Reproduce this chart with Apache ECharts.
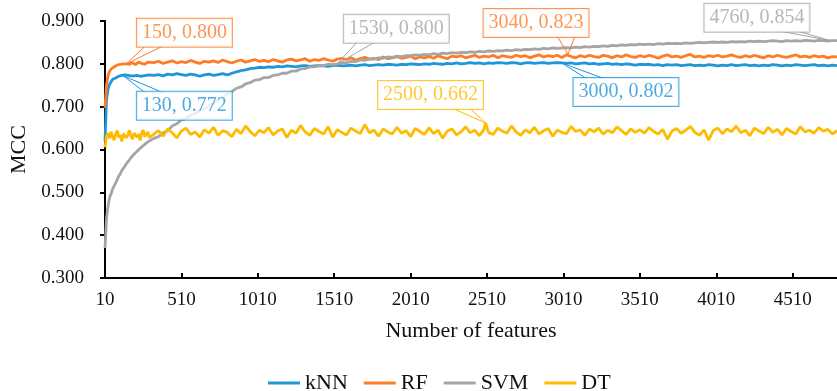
<!doctype html>
<html>
<head>
<meta charset="utf-8">
<title>MCC</title>
<script type="text/javascript" src="https://cdn.jsdelivr.net/npm/echarts@6.0.0/dist/echarts.min.js"></script>
</head>
<body style="margin:0;padding:0">
<div id="tb" style="width:837px;height:391px;"></div>
<script>
// number of features: every 10 up to 300, then every 30 up to 4800
var features = [];
for (var f = 10; f <= 300; f += 10) features.push(f);
for (var g = 330; g <= 4800; g += 30) features.push(g);

var xTicks = [10, 510, 1010, 1510, 2010, 2510, 3010, 3510, 4010, 4510];

var knn = [
  0.620, 0.718, 0.742, 0.752, 0.758, 0.764, 0.768, 0.767, 0.770, 0.771,
  0.769, 0.773, 0.772, 0.774, 0.771, 0.773, 0.770, 0.772, 0.775, 0.772,
  0.770, 0.773, 0.775, 0.771, 0.774, 0.772, 0.776, 0.773, 0.771, 0.774,
  0.773, 0.775, 0.772, 0.776, 0.774, 0.777, 0.775, 0.773, 0.776, 0.774, 0.771, 0.774,
  0.776, 0.773, 0.775, 0.777, 0.774, 0.778, 0.781, 0.784, 0.786, 0.789, 0.790, 0.792,
  0.791, 0.793, 0.792, 0.794, 0.793, 0.795, 0.794, 0.793, 0.795, 0.796, 0.794, 0.795,
  0.796, 0.795, 0.794, 0.796, 0.797, 0.795, 0.796, 0.797, 0.795, 0.797, 0.798, 0.796,
  0.797, 0.798, 0.797, 0.799, 0.798, 0.797, 0.799, 0.798, 0.800, 0.799, 0.798, 0.800,
  0.799, 0.801, 0.800, 0.799, 0.801, 0.800, 0.802, 0.800, 0.801, 0.803, 0.801, 0.802,
  0.800, 0.802, 0.801, 0.803, 0.802, 0.801, 0.803, 0.802, 0.800, 0.802, 0.803, 0.801,
  0.802, 0.803, 0.801, 0.802, 0.803, 0.802, 0.801, 0.802, 0.800, 0.801, 0.802, 0.800,
  0.801, 0.799, 0.800, 0.801, 0.799, 0.800, 0.798, 0.800, 0.799, 0.797, 0.799, 0.798,
  0.799, 0.797, 0.798, 0.796, 0.798, 0.797, 0.798, 0.796, 0.797, 0.798, 0.796, 0.797,
  0.796, 0.798, 0.797, 0.795, 0.797, 0.796, 0.798, 0.796, 0.797, 0.798, 0.796, 0.797,
  0.795, 0.797, 0.796, 0.798, 0.797, 0.795, 0.797, 0.796, 0.798, 0.797, 0.796, 0.797,
  0.798, 0.796, 0.797, 0.795, 0.797, 0.796
];

var rf = [
  0.697, 0.752, 0.772, 0.783, 0.788, 0.792, 0.793, 0.795, 0.797, 0.796,
  0.799, 0.798, 0.800, 0.797, 0.800, 0.802, 0.799, 0.801, 0.803, 0.800,
  0.798, 0.802, 0.804, 0.800, 0.801, 0.803, 0.799, 0.802, 0.804, 0.801,
  0.803, 0.806, 0.801, 0.804, 0.807, 0.802, 0.805, 0.803, 0.808, 0.804, 0.801, 0.806,
  0.804, 0.807, 0.803, 0.809, 0.805, 0.802, 0.806, 0.809, 0.804, 0.807, 0.810, 0.806,
  0.808, 0.805, 0.810, 0.807, 0.804, 0.809, 0.811, 0.807, 0.809, 0.812, 0.806, 0.810,
  0.808, 0.812, 0.809, 0.806, 0.811, 0.813, 0.810, 0.814, 0.809, 0.812, 0.815, 0.811,
  0.813, 0.810, 0.816, 0.812, 0.814, 0.817, 0.813, 0.815, 0.818, 0.812, 0.816, 0.814,
  0.817, 0.813, 0.819, 0.815, 0.812, 0.818, 0.816, 0.819, 0.814, 0.817, 0.820, 0.815,
  0.818, 0.816, 0.820, 0.814, 0.819, 0.817, 0.815, 0.820, 0.817, 0.819, 0.814, 0.818,
  0.821, 0.816, 0.819, 0.817, 0.820, 0.815, 0.821, 0.817, 0.814, 0.819, 0.816, 0.820,
  0.817, 0.815, 0.820, 0.818, 0.814, 0.819, 0.816, 0.821, 0.817, 0.815, 0.819, 0.816,
  0.820, 0.817, 0.813, 0.818, 0.821, 0.816, 0.818, 0.815, 0.819, 0.822, 0.816, 0.818,
  0.815, 0.819, 0.817, 0.820, 0.816, 0.818, 0.821, 0.817, 0.815, 0.819, 0.816, 0.820,
  0.817, 0.814, 0.819, 0.816, 0.820, 0.817, 0.815, 0.818, 0.821, 0.816, 0.818, 0.815,
  0.819, 0.816, 0.818, 0.814, 0.817, 0.816
];

var svm = [
  0.370, 0.440, 0.468, 0.488, 0.497, 0.508, 0.515, 0.522, 0.530, 0.538,
  0.543, 0.551, 0.556, 0.561, 0.567, 0.570, 0.576, 0.581, 0.584, 0.589,
  0.592, 0.596, 0.598, 0.603, 0.605, 0.609, 0.611, 0.615, 0.617, 0.620,
  0.626, 0.630, 0.639, 0.644, 0.655, 0.660, 0.669, 0.672, 0.680, 0.684, 0.691, 0.695,
  0.702, 0.707, 0.716, 0.721, 0.730, 0.735, 0.743, 0.746, 0.753, 0.756, 0.762, 0.763,
  0.768, 0.768, 0.773, 0.774, 0.778, 0.778, 0.783, 0.783, 0.788, 0.789, 0.793, 0.793,
  0.796, 0.796, 0.799, 0.798, 0.800, 0.803, 0.802, 0.806, 0.805, 0.809, 0.808, 0.811,
  0.811, 0.814, 0.813, 0.816, 0.815, 0.818, 0.817, 0.819, 0.819, 0.821, 0.820, 0.822,
  0.821, 0.824, 0.822, 0.825, 0.824, 0.826, 0.825, 0.827, 0.826, 0.828, 0.827, 0.829,
  0.828, 0.830, 0.829, 0.831, 0.830, 0.832, 0.831, 0.833, 0.832, 0.834, 0.833, 0.835,
  0.834, 0.836, 0.835, 0.837, 0.836, 0.837, 0.838, 0.837, 0.839, 0.838, 0.840, 0.839,
  0.841, 0.840, 0.842, 0.841, 0.843, 0.842, 0.844, 0.843, 0.845, 0.844, 0.846, 0.845,
  0.846, 0.845, 0.847, 0.846, 0.848, 0.847, 0.848, 0.847, 0.849, 0.848, 0.849, 0.850,
  0.849, 0.850, 0.851, 0.850, 0.851, 0.850, 0.852, 0.851, 0.852, 0.851, 0.853, 0.852,
  0.853, 0.852, 0.853, 0.854, 0.853, 0.852, 0.854, 0.853, 0.854, 0.853, 0.855, 0.854,
  0.853, 0.855, 0.854, 0.853, 0.855, 0.854
];

var dt = [
  0.605, 0.632, 0.638, 0.626, 0.641, 0.630, 0.622, 0.636, 0.644, 0.628,
  0.633, 0.619, 0.637, 0.640, 0.627, 0.634, 0.645, 0.631, 0.624, 0.638,
  0.642, 0.629, 0.636, 0.621, 0.639, 0.646, 0.630, 0.635, 0.641, 0.628,
  0.636, 0.644, 0.631, 0.648, 0.639, 0.627, 0.643, 0.650, 0.635, 0.641, 0.629, 0.646,
  0.638, 0.652, 0.633, 0.644, 0.640, 0.630, 0.647, 0.637, 0.655, 0.642, 0.632, 0.645,
  0.639, 0.651, 0.634, 0.643, 0.648, 0.628, 0.645, 0.638, 0.656, 0.641, 0.633, 0.649,
  0.642, 0.636, 0.653, 0.629, 0.646, 0.640, 0.634, 0.650, 0.643, 0.637, 0.658, 0.639,
  0.645, 0.631, 0.648, 0.641, 0.636, 0.652, 0.638, 0.644, 0.630, 0.649, 0.642, 0.635,
  0.651, 0.637, 0.645, 0.626, 0.643, 0.648, 0.634, 0.641, 0.653, 0.639, 0.645, 0.632,
  0.647, 0.640, 0.635, 0.650, 0.643, 0.638, 0.655, 0.641, 0.633, 0.646, 0.639, 0.652,
  0.636, 0.644, 0.649, 0.631, 0.645, 0.640, 0.637, 0.654, 0.642, 0.646, 0.633, 0.648,
  0.641, 0.650, 0.636, 0.645, 0.639, 0.653, 0.644, 0.635, 0.648, 0.640, 0.646, 0.638,
  0.651, 0.642, 0.636, 0.647, 0.624, 0.643, 0.649, 0.638, 0.645, 0.654, 0.640, 0.633,
  0.646, 0.622, 0.644, 0.650, 0.637, 0.648, 0.641, 0.655, 0.639, 0.645, 0.632, 0.650,
  0.643, 0.637, 0.652, 0.640, 0.647, 0.634, 0.649, 0.642, 0.636, 0.653, 0.641, 0.645,
  0.638, 0.651, 0.643, 0.647, 0.636, 0.644
];

// callout points [features, MCC]
var knnNotes = [[130, 0.772], [3000, 0.802]];
var rfNotes = [[150, 0.800], [3040, 0.823]];
var svmNotes = [[1530, 0.800], [4760, 0.854]];
var dtNotes = [[2500, 0.662]];

// where each callout box sits relative to its point (px)
var knnBox = [[61, 30], [64, 29]];
var rfBox = [[58, -31], [-32, -31]];
var svmBox = [[59, -35], [-74, -23]];
var dtBox = [[-55, -28]];

var names = ['kNN', 'RF', 'SVM', 'DT'];
var colors = ['#1e96d7', '#ff7b25', '#a5a5a5', '#ffbb00'];
var serif = 'Liberation Serif';

function pairs(vals, notes) {
    var d = features.map(function (x, i) { return [x, vals[i]]; });
    notes.forEach(function (n) {
        var k = features.indexOf(n[0]);
        if (k >= 0) d[k] = [n[0], n[1]];
        else d.push([n[0], n[1]]);
    });
    d.sort(function (a, b) { return a[0] - b[0]; });
    return d;
}

function lineSeries(i, vals, notes) {
    return {
        name: names[i],
        type: 'line',
        data: pairs(vals, notes),
        showSymbol: false,
        symbol: 'none',
        lineStyle: { color: colors[i], width: 2.8 },
        itemStyle: { color: colors[i] },
        z: 2 + i
    };
}

// callout box (label of an invisible scatter point)
function noteSeries(i, notes, box) {
    return {
        name: names[i] + ' note',
        type: 'scatter',
        data: notes,
        symbolSize: 1,
        itemStyle: { color: 'rgba(0,0,0,0)' },
        z: 10,
        label: {
            show: true,
            position: 'inside',
            formatter: function (p) { return p.value[0] + ', ' + p.value[1].toFixed(3); },
            fontFamily: serif,
            fontSize: 20,
            color: colors[i],
            backgroundColor: '#fff',
            borderColor: colors[i],
            borderWidth: 1,
            padding: [4, 5]
        },
        labelLayout: function (p) {
            var o = box[p.dataIndex];
            return { dx: o[0], dy: o[1] };
        }
    };
}

var bt = document.getElementById('tb');
var btchart = echarts.init(bt);

btchart.setOption({
    animation: false,
    backgroundColor: '#fff',
    grid: { left: 105, right: -9, top: 21, bottom: 113 },
    legend: {
        data: names,
        left: 263,
        top: 367,
        icon: 'rect',
        itemWidth: 32,
        itemHeight: 3,
        itemGap: 16,
        textStyle: { fontFamily: serif, fontSize: 22, color: '#111' }
    },
    xAxis: {
        type: 'value',
        min: 10,
        max: 4800,
        name: 'Number of features',
        nameLocation: 'middle',
        nameGap: 42,
        nameTextStyle: { fontFamily: serif, fontSize: 22, color: '#111' },
        axisLine: { show: true, lineStyle: { color: '#000', width: 2 } },
        axisTick: { show: true, inside: true, length: 5, customValues: xTicks, lineStyle: { color: '#000', width: 2 } },
        axisLabel: {
            customValues: xTicks, margin: 13, fontFamily: serif, fontSize: 19, color: '#111',
            formatter: function (v) { return String(v); }
        },
        splitLine: { show: false }
    },
    yAxis: {
        type: 'value',
        min: 0.3,
        max: 0.9,
        interval: 0.1,
        name: 'MCC',
        nameLocation: 'middle',
        nameGap: 60,
        nameTextStyle: { fontFamily: serif, fontSize: 22, color: '#111' },
        axisLine: { show: true, lineStyle: { color: '#000', width: 2 } },
        axisTick: { show: true, inside: false, length: 5, lineStyle: { color: '#000', width: 2 } },
        axisLabel: {
            margin: 21, fontFamily: serif, fontSize: 19, color: '#111',
            formatter: function (v) { return v.toFixed(3); }
        },
        splitLine: { show: false }
    },
    series: [
        lineSeries(0, knn, knnNotes),
        lineSeries(1, rf, rfNotes),
        lineSeries(2, svm, svmNotes),
        lineSeries(3, dt, dtNotes),
        noteSeries(0, knnNotes, knnBox),
        noteSeries(1, rfNotes, rfBox),
        noteSeries(2, svmNotes, svmBox),
        noteSeries(3, dtNotes, dtBox)
    ]
});

// callout wedges: from the box edge to the point, placed through the chart's own scales
var wedges = [];
[[knnNotes, knnBox], [rfNotes, rfBox], [svmNotes, svmBox], [dtNotes, dtBox]].forEach(function (grp, i) {
    grp[0].forEach(function (n, j) {
        var p = btchart.convertToPixel({ gridIndex: 0 }, n);
        var o = grp[1][j];
        var cx = p[0] + o[0], cy = p[1] + o[1];
        var ex = cx - Math.sign(o[0]) * Math.min(Math.abs(o[0]), 30);
        var ey = o[1] < 0 ? cy + 13 : cy - 13;
        wedges.push({
            type: 'polyline',
            z: 8,
            shape: { points: [[ex - 9, ey], [p[0], p[1]], [ex + 9, ey]] },
            style: { stroke: colors[i], fill: null, lineWidth: 1 }
        });
    });
});
btchart.setOption({ graphic: wedges });
</script>
</body>
</html>
